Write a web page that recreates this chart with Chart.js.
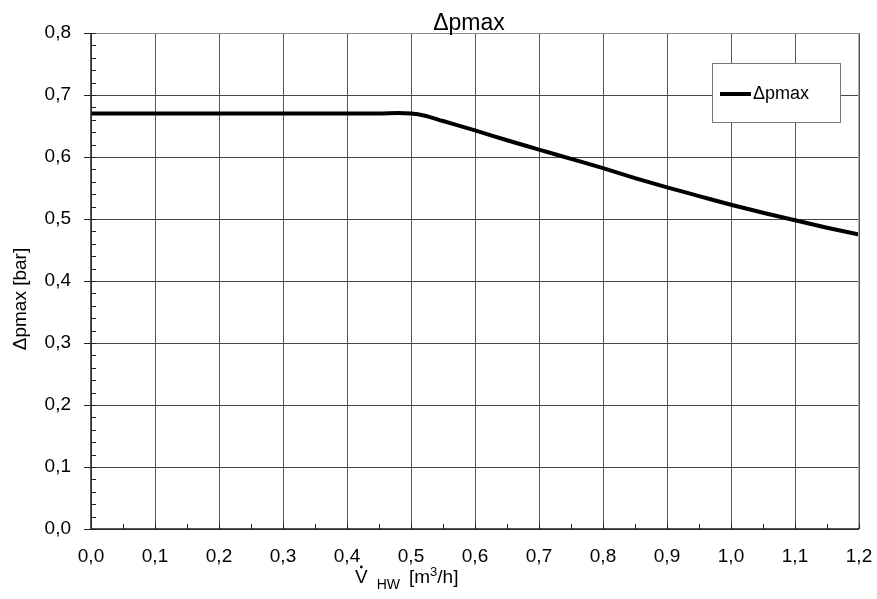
<!DOCTYPE html>
<html>
<head>
<meta charset="utf-8">
<script src="https://cdn.jsdelivr.net/npm/chart.js@4"></script>
<style>
  html, body { margin: 0; padding: 0; background: #fff; }
  #wrap { width: 877px; height: 599px; }
</style>
</head>
<body>
<div id="wrap"><canvas id="chart"></canvas></div>
<script>
// flow rate V_HW [m3/h]
const flow = [0.0, 0.1, 0.2, 0.3, 0.4, 0.45, 0.48, 0.5, 0.52, 0.55, 0.6, 0.65, 0.7, 0.75, 0.8, 0.85, 0.9, 0.95, 1.0, 1.05, 1.1, 1.15, 1.2];
// max pressure difference [bar]
const dpmax = [0.670, 0.670, 0.670, 0.670, 0.670, 0.670, 0.671, 0.670, 0.667, 0.658, 0.643, 0.627, 0.612, 0.597, 0.582, 0.566, 0.551, 0.537, 0.523, 0.510, 0.498, 0.486, 0.475];
const seriesName = 'Δpmax';
const xTicks = [0.0, 0.1, 0.2, 0.3, 0.4, 0.5, 0.6, 0.7, 0.8, 0.9, 1.0, 1.1, 1.2];
const yTicks = [0.0, 0.1, 0.2, 0.3, 0.4, 0.5, 0.6, 0.7, 0.8];
const yMinorTicks = [];
for (let i = 0; i <= 40; i++) yMinorTicks.push(i * 0.02);
const xMinorTicks = [];
for (let i = 0; i <= 24; i++) xMinorTicks.push(i * 0.05);

const FONT = '"Liberation Sans", Arial, sans-serif';
const fmt = v => Number(v).toFixed(1).replace('.', ',');

const extras = {
  id: 'extras',
  afterDraw(chart) {
    const { ctx, chartArea: a, scales } = chart;
    const xs = scales.x, ys = scales.y;
    ctx.save();
    // borders
    ctx.lineWidth = 1;
    ctx.strokeStyle = '#888';
    ctx.beginPath(); ctx.moveTo(a.left, a.top + 0.5); ctx.lineTo(a.right, a.top + 0.5); ctx.stroke();
    ctx.strokeStyle = '#b0b0b0';
    ctx.beginPath(); ctx.moveTo(a.right - 0.5, a.top); ctx.lineTo(a.right - 0.5, a.bottom); ctx.stroke();
    // axes
    ctx.strokeStyle = '#222';
    ctx.lineWidth = 1.5;
    ctx.beginPath(); ctx.moveTo(a.left, a.top); ctx.lineTo(a.left, a.bottom); ctx.lineTo(a.right, a.bottom); ctx.stroke();
    // minor ticks
    ctx.lineWidth = 1;
    yMinorTicks.forEach(v => {
      const y = Math.round(ys.getPixelForValue(v)) + 0.5;
      ctx.beginPath(); ctx.moveTo(a.left, y); ctx.lineTo(a.left + 5, y); ctx.stroke();
    });
    xMinorTicks.forEach(v => {
      const x = Math.round(xs.getPixelForValue(v)) + 0.5;
      ctx.beginPath(); ctx.moveTo(x, a.bottom); ctx.lineTo(x, a.bottom - 5); ctx.stroke();
    });
    // title
    ctx.fillStyle = '#000';
    ctx.font = '23px ' + FONT;
    ctx.textAlign = 'center';
    ctx.textBaseline = 'alphabetic';
    ctx.fillText(seriesName, 469, 30);
    // y axis title
    ctx.save();
    ctx.translate(26, 299);
    ctx.rotate(-Math.PI / 2);
    ctx.font = '19px ' + FONT;
    ctx.textAlign = 'center';
    ctx.fillText('Δpmax [bar]', 0, 0);
    ctx.restore();
    // x axis title: V-dot, subscript HW, [m³/h]
    ctx.textAlign = 'left';
    let x = 355;
    const base = 583;
    ctx.font = '19px ' + FONT;
    ctx.fillText('V', x, base);
    const vw = ctx.measureText('V').width;
    ctx.beginPath(); ctx.arc(x + vw / 2, base - 16, 1.4, 0, Math.PI * 2); ctx.fill();
    x += vw + 9;
    ctx.font = '14px ' + FONT;
    ctx.fillText('HW', x, base + 6);
    x += ctx.measureText('HW').width + 9;
    ctx.font = '19px ' + FONT;
    ctx.fillText('[m', x, base);
    x += ctx.measureText('[m').width;
    ctx.font = '13px ' + FONT;
    ctx.fillText('3', x, base - 7);
    x += ctx.measureText('3').width;
    ctx.font = '19px ' + FONT;
    ctx.fillText('/h]', x, base);
    // legend
    ctx.fillStyle = '#fff';
    ctx.fillRect(712, 63, 129, 60);
    ctx.strokeStyle = '#777';
    ctx.lineWidth = 1;
    ctx.strokeRect(712.5, 63.5, 128, 59);
    ctx.strokeStyle = '#000';
    ctx.lineWidth = 4;
    ctx.beginPath(); ctx.moveTo(720, 94); ctx.lineTo(751, 94); ctx.stroke();
    ctx.fillStyle = '#000';
    ctx.font = '18px ' + FONT;
    ctx.textBaseline = 'middle';
    ctx.fillText(seriesName, 753, 94);
    ctx.restore();
  }
};

new Chart(document.getElementById('chart'), {
  type: 'line',
  data: {
    datasets: [{
      label: seriesName,
      data: flow.map((f, i) => ({ x: f, y: dpmax[i] })),
      borderColor: '#000',
      borderWidth: 4,
      pointRadius: 0,
      fill: false,
      cubicInterpolationMode: 'monotone'
    }]
  },
  options: {
    responsive: true,
    maintainAspectRatio: false,
    animation: false,
    layout: { padding: { top: 33, right: 18, left: 0, bottom: 0 } },
    plugins: { legend: { display: false }, title: { display: false }, tooltip: { enabled: false } },
    scales: {
      x: {
        type: 'linear',
        min: 0, max: 1.2,
        afterBuildTicks: s => { s.ticks = xTicks.map(v => ({ value: v })); },
        afterFit: s => { s.height = 70; s.paddingLeft = 0; s.paddingRight = 0; },
        border: { display: false },
        grid: { color: '#555', lineWidth: 1, tickLength: 0, drawTicks: false },
        ticks: { color: '#000', font: { family: FONT, size: 19 }, padding: 16, maxRotation: 0, callback: v => fmt(v) }
      },
      y: {
        type: 'linear',
        min: 0, max: 0.8,
        afterBuildTicks: s => { s.ticks = yTicks.map(v => ({ value: v })); },
        afterFit: s => { s.width = 91; s.paddingTop = 0; s.paddingBottom = 0; },
        border: { display: false },
        grid: { color: '#444', lineWidth: 1, tickLength: 7, tickColor: '#222' },
        ticks: { color: '#000', font: { family: FONT, size: 19 }, padding: 13, callback: v => fmt(v) }
      }
    }
  },
  plugins: [extras]
});
</script>
</body>
</html>
